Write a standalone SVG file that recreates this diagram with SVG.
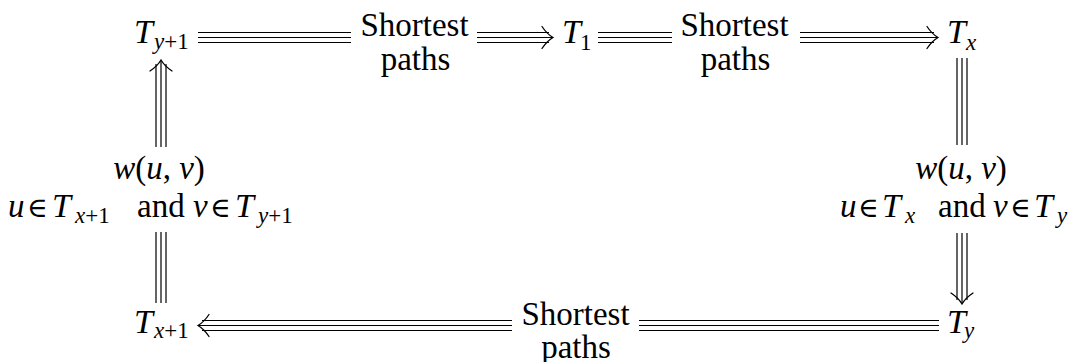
<svg xmlns="http://www.w3.org/2000/svg" width="1086" height="362" viewBox="0 0 1086 362">
<style>
.lb{font-size:33px;fill:#000}
.T{font-size:34px;font-style:italic;fill:#000}
.sub{font-size:23px;fill:#000}
.el{font-size:28px;fill:#000}
.mi{font-style:italic}
.ln{stroke:#000;stroke-width:1.2;fill:none}
.hd{stroke:#000;stroke-width:1.3;fill:none;stroke-linecap:round}
.s{font-family:'Liberation Serif'}
.d{font-family:'DejaVu Serif'}
</style>
<rect width="1086" height="362" fill="#fff"/>
<g id="connectors">
  <path class="ln" d="M198 32.5H351M198 37.5H351M198 42.5H351"/>
  <path class="ln" d="M477 32.5H549M477 37.5H552M477 42.5H549"/>
  <path class="hd" d="M542 26.5Q547 34 553 37.5Q547 41 542 48.5"/>
  <text class="lb s" x="414.5" y="36" text-anchor="middle">Shortest</text>
  <text class="lb s" x="415.5" y="70" text-anchor="middle">paths</text>
  <path class="ln" d="M598 32.5H672M598 37.5H672M598 42.5H672"/>
  <path class="ln" d="M800 32.5H934M800 37.5H937M800 42.5H934"/>
  <path class="hd" d="M927 26.5Q932 34 938 37.5Q932 41 927 48.5"/>
  <text class="lb s" x="734.5" y="36" text-anchor="middle">Shortest</text>
  <text class="lb s" x="735.5" y="70" text-anchor="middle">paths</text>
  <path class="ln" d="M957 58V145M962 58V145M967 58V145"/>
  <path class="ln" d="M957 233V300M962 233V303M967 233V300"/>
  <path class="hd" d="M951 293Q958.5 298 962 304Q965.5 298 973 293"/>
  <text class="lb s" x="961" y="179" text-anchor="middle"><tspan class="mi">w</tspan>(<tspan class="mi">u</tspan>, <tspan class="mi">v</tspan>)</text>
  <text class="lb s mi" x="840" y="217">u</text>
  <text class="el d" x="858" y="217">&#x2208;</text>
  <text class="T s" x="882" y="217">T</text>
  <text class="sub s mi" x="905" y="223">x</text>
  <text class="lb s" x="938" y="217">and</text>
  <text class="lb s mi" x="993" y="217">v</text>
  <text class="el d" x="1010" y="217">&#x2208;</text>
  <text class="T s" x="1034" y="217">T</text>
  <text class="sub s mi" x="1057" y="223">y</text>
  <path class="ln" d="M639 320.5H939M639 325.5H939M639 330.5H939"/>
  <path class="ln" d="M202 320.5H512M199 325.5H512M202 330.5H512"/>
  <path class="hd" d="M209 314.5Q204 322 198 325.5Q204 329 209 336.5"/>
  <text class="lb s" x="575.5" y="325" text-anchor="middle">Shortest</text>
  <text class="lb s" x="576" y="358" text-anchor="middle">paths</text>
  <path class="ln" d="M156 303V232M161 303V232M166 303V232"/>
  <path class="ln" d="M156 147V64M161 147V61M166 147V64"/>
  <path class="hd" d="M150 71Q157.5 66 161 60Q164.5 66 172 71"/>
  <text class="lb s" x="159" y="179" text-anchor="middle"><tspan class="mi">w</tspan>(<tspan class="mi">u</tspan>, <tspan class="mi">v</tspan>)</text>
  <text class="lb s mi" x="8" y="217">u</text>
  <text class="el d" x="27" y="217">&#x2208;</text>
  <text class="T s" x="52" y="217">T</text>
  <text class="sub s" x="75" y="223"><tspan class="mi">x</tspan>+1</text>
  <text class="lb s" x="137" y="217">and</text>
  <text class="lb s mi" x="193" y="217">v</text>
  <text class="el d" x="210" y="217">&#x2208;</text>
  <text class="T s" x="235" y="217">T</text>
  <text class="sub s" x="258" y="223"><tspan class="mi">y</tspan>+1</text>
</g>
<g id="node-Ty1">
  <text class="T s" x="134" y="43">T</text>
  <text class="sub s" x="154" y="49"><tspan class="mi">y</tspan>+1</text>
</g>
<g id="node-T1">
  <text class="T s" x="562" y="43">T</text>
  <text class="sub s" x="580" y="50">1</text>
</g>
<g id="node-Tx">
  <text class="T s" x="947" y="43">T</text>
  <text class="sub s mi" x="966" y="50">x</text>
</g>
<g id="node-Tx1">
  <text class="T s" x="134" y="333">T</text>
  <text class="sub s" x="154" y="338"><tspan class="mi">x</tspan>+1</text>
</g>
<g id="node-Ty">
  <text class="T s" x="947" y="333">T</text>
  <text class="sub s mi" x="964" y="338">y</text>
</g>
</svg>
